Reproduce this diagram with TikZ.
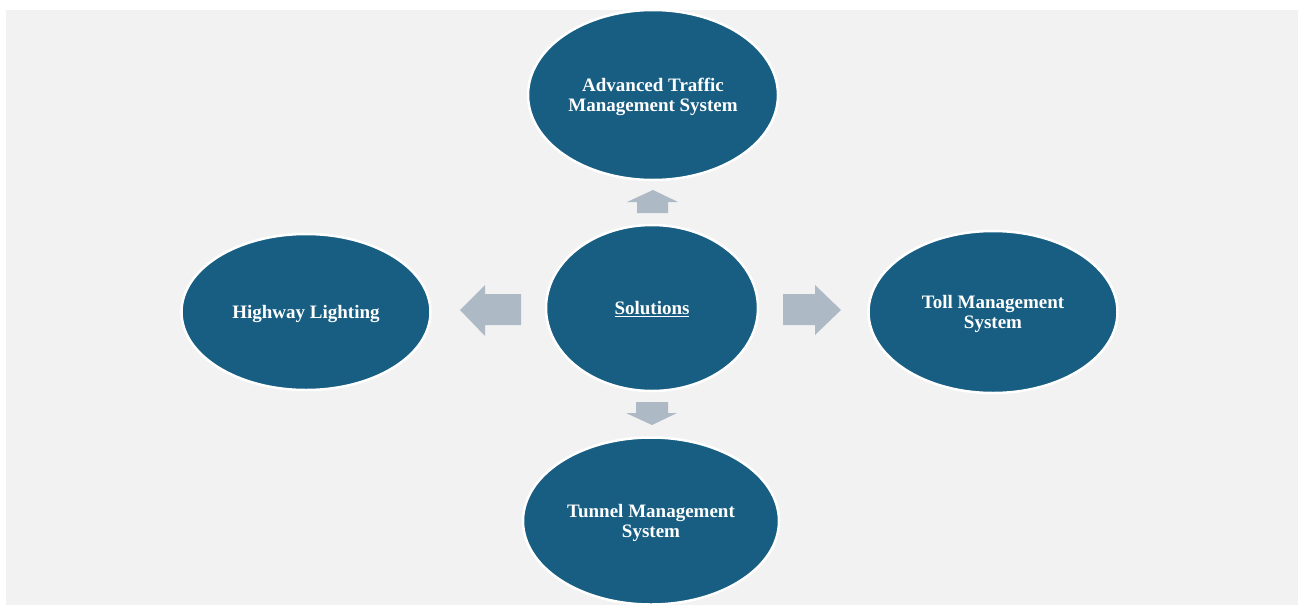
\documentclass[tikz,border=0pt]{standalone}
\usepackage{fontspec}
\setmainfont{Liberation Serif}
\usepackage{tikz}
\usetikzlibrary{shapes, arrows, positioning}
\definecolor{solblue}{HTML}{175E82}
\definecolor{arrowgray}{HTML}{ADB9C5}
\definecolor{bggray}{HTML}{F2F2F2}

\begin{document}
\begin{tikzpicture}[x=1pt, y=-1pt]
\tikzset{sol/.style = {ellipse, fill=solblue, draw=white, line width=2.5pt,
        text=white, font=\fontsize{19}{20}\selectfont\bfseries, align=center,
        inner sep=0pt, text depth=0pt},
        blk/.style = {fill=arrowgray}}
\useasboundingbox (0,0) rectangle (1300,605);
\fill[bggray] (6,10) rectangle (1298,605);
            % vertices
	\node[sol, minimum width=250, minimum height=170] (atms) at (653,95) {Advanced Traffic\\Management System};
	\node[sol, minimum width=212, minimum height=166] (sol) at (652,308) {\underline{Solutions}};
	\node[sol, minimum width=249, minimum height=156] (hl) at (306,312) {Highway Lighting};
	\node[sol, minimum width=249, minimum height=162] (tms) at (993,312) {Toll Management\\System};
	\node[sol, minimum width=256, minimum height=167] (tun) at (651,521) {Tunnel Management\\System};
            % arrows
	\fill[blk] (521,294) -- (485,294) -- (485,285) -- (460,310) -- (485,336) -- (485,325) -- (521,325) -- cycle;
	\fill[blk] (783,294) -- (815,294) -- (815,285) -- (841,310) -- (815,335) -- (815,325) -- (783,325) -- cycle;
	\fill[blk] (637,213) -- (637,202) -- (627,202) -- (653,190) -- (678,202) -- (668,202) -- (668,213) -- cycle;
	\fill[blk] (636,402) -- (636,413) -- (626,413) -- (652,425) -- (677,413) -- (668,413) -- (668,402) -- cycle;
\end{tikzpicture}
\end{document}
